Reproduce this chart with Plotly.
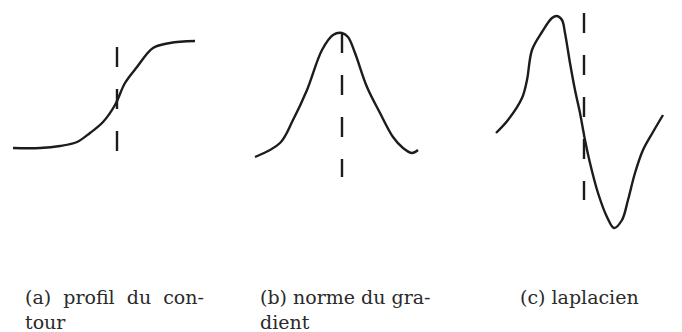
import plotly.graph_objects as go

# (a) profil du contour
prof_x = [13, 40, 60, 77, 90, 103, 115, 125, 137, 153, 170, 195]
prof_y = [148, 148, 146, 142, 133, 122, 105, 83, 67, 48, 43, 41]
prof_edge = 117
prof_dash = [47, 155]

# (b) norme du gradient
grad_x = [255, 280, 293, 307, 322, 333, 342, 348, 355, 367, 380, 393, 403, 412, 418]
grad_y = [157, 143, 120, 90, 50, 35, 33, 37, 53, 87, 113, 137, 148, 153, 150]
grad_edge = 342
grad_dash = [33, 177]

# (c) laplacien
lap_x = [496, 508, 522, 527, 532, 542, 552, 557, 562, 565, 570, 575, 580, 585,
         590, 598, 607, 614, 622, 628, 635, 643, 653, 663]
lap_y = [133, 120, 98, 80, 50, 32, 18, 16, 20, 33, 63, 90, 113, 140,
         163, 193, 217, 228, 220, 200, 173, 150, 132, 115]
lap_edge = 584
lap_dash = [13, 200]

# justified caption lines (wider word gaps on the first one)
captions = [
    ("(a)\u00a0 profil\u00a0 du\u00a0 con-", "tour", 25),
    ("(b) norme du gra-", "dient", 260),
    ("(c) laplacien", "", 520),
]

W, H = 682, 332
ink = '#1c1c1c'
cap_font = dict(family='DejaVu Serif', size=19, color='#2a2a2a')

fig = go.Figure()
for xs, ys in [(prof_x, prof_y), (grad_x, grad_y), (lap_x, lap_y)]:
    fig.add_trace(go.Scatter(x=xs, y=ys, mode='lines', line_shape='spline',
                             line=dict(color=ink, width=2.4), hoverinfo='skip'))
for ex, dy in [(prof_edge, prof_dash), (grad_edge, grad_dash), (lap_edge, lap_dash)]:
    fig.add_trace(go.Scatter(x=[ex, ex], y=dy, mode='lines',
                             line=dict(color=ink, width=2.4, dash='20px,22px'),
                             hoverinfo='skip'))

for line1, line2, x0 in captions:
    fig.add_annotation(x=x0 / W, y=1 - 297 / H, xref='paper', yref='paper',
                       text=line1, showarrow=False, xanchor='left', yanchor='middle',
                       xshift=-2, font=cap_font)
    if line2:
        fig.add_annotation(x=x0 / W, y=1 - 322 / H, xref='paper', yref='paper',
                           text=line2, showarrow=False, xanchor='left', yanchor='middle',
                           xshift=-2, font=cap_font)

fig.update_layout(width=W, height=H, margin=dict(l=0, r=0, t=0, b=0),
                  showlegend=False, paper_bgcolor='white', plot_bgcolor='white',
                  xaxis=dict(range=[0, W], visible=False),
                  yaxis=dict(range=[H, 0], visible=False))

# drop the page's default body margin so the figure sits at the corner
fig.write_html("out.html", config={'displayModeBar': False},
               post_script="document.body.style.margin='0';")
